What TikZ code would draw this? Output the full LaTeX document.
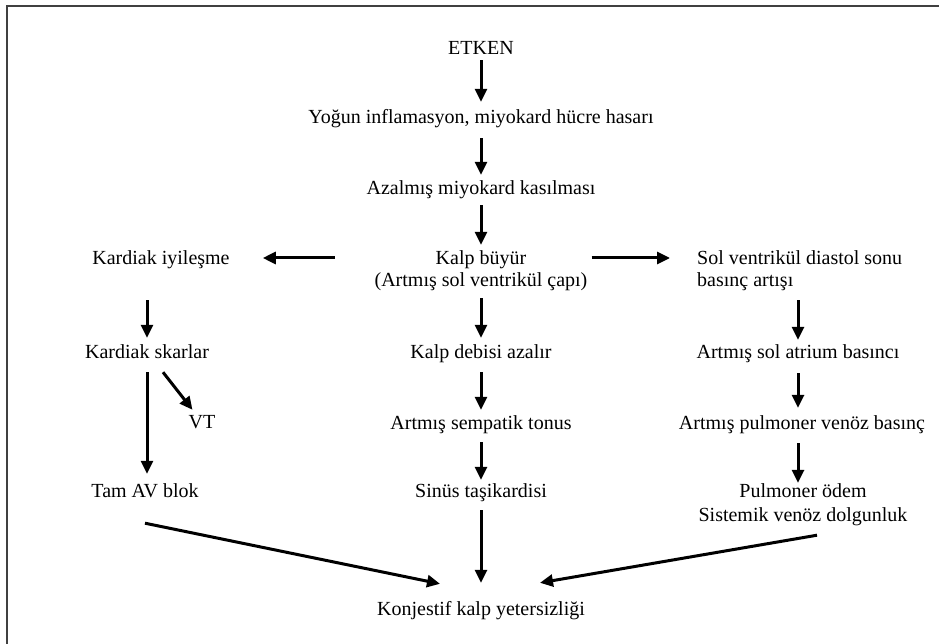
\documentclass[tikz,border=0pt]{standalone}
\usepackage{fontspec}
\setmainfont{Liberation Serif}
\usetikzlibrary{arrows.meta}
\tikzset{
  lbl/.style={inner sep=0pt, text height=14pt, text depth=5pt, font=\fontsize{20}{24}\selectfont, anchor=base},
  lblw/.style={lbl, anchor=base west},
  arr/.style={line width=3pt, -{Triangle[width=12pt,length=13pt]}},
}
\begin{document}
\begin{tikzpicture}[x=1pt,y=-1pt]
\useasboundingbox (0,0) rectangle (939,644);
\draw[line width=2pt, black!75] (7,644) -- (7,6) -- (939,6);

% centre column
\node[lbl] (etken) at (481,55) {ETKEN};
\node[lbl] (yogun) at (481,124) {Yoğun inflamasyon, miyokard hücre hasarı};
\node[lbl] (azalmis) at (481,195) {Azalmış miyokard kasılması};
\node[lbl] (kalp1) at (481,265) {Kalp büyür};
\node[lbl] (kalp2) at (481,287) {(Artmış sol ventrikül çapı)};
\node[lbl] (debisi) at (481,358) {Kalp debisi azalır};
\node[lbl] (sempatik) at (481,429) {Artmış sempatik tonus};
\node[lbl] (sinus) at (481,497) {Sinüs taşikardisi};
\node[lbl] (konjestif) at (481,615) {Konjestif kalp yetersizliği};

% left column
\node[lbl] (iyilesme) at (161,265) {Kardiak iyileşme};
\node[lbl] (skarlar) at (147,358) {Kardiak skarlar};
\node[lbl] (vt) at (202,428) {VT};
\node[lbl] (tamav) at (145,497) {Tam AV blok};

% right column
\node[lblw] (sol1) at (697,265) {Sol ventrikül diastol sonu};
\node[lblw] (sol2) at (697,287) {basınç artışı};
\node[lbl] (atrium) at (798,358) {Artmış sol atrium basıncı};
\node[lbl] (pulmvenoz) at (802,429) {Artmış pulmoner venöz basınç};
\node[lbl] (pulmodem) at (803,497) {Pulmoner ödem};
\node[lbl] (sistemik) at (803,521) {Sistemik venöz dolgunluk};

% centre arrows
\draw[arr, shorten <=0pt, shorten >=8pt] (etken.south) -- (yogun.north);
\draw[arr, shorten <=9pt, shorten >=6pt] (yogun.south) -- (azalmis.north);
\draw[arr, shorten <=5pt, shorten >=6pt] (azalmis.south) -- (kalp1.north);
\draw[arr, shorten <=6pt, shorten >=6pt] (kalp2.south) -- (debisi.north);
\draw[arr, shorten <=9pt, shorten >=5pt] (debisi.south) -- (sempatik.north);
\draw[arr, shorten <=8pt, shorten >=3pt] (sempatik.south) -- (sinus.north);
\draw[arr, shorten <=8pt, shorten >=18pt] (sinus.south) -- (konjestif.north);

% horizontal arrows
\draw[arr, shorten <=101pt, shorten >=33pt] ([yshift=2.5pt]kalp1.west) -- ([yshift=2.5pt]iyilesme.east);
\draw[arr, shorten <=4pt, shorten >=27pt] ([yshift=2.5pt]kalp2.east |- kalp1.east) -- ([yshift=2.5pt]sol1.west);

% right arrows
\draw[arr, shorten <=8pt, shorten >=4pt] (atrium.north |- sol2.south) -- (atrium.north);
\draw[arr, shorten <=10pt, shorten >=7pt] (atrium.south) -- (atrium.south |- pulmvenoz.north);
\draw[arr, shorten <=9pt, shorten >=0pt] (atrium.south |- pulmvenoz.south) -- (atrium.south |- pulmodem.north);

% left arrows
\draw[arr, shorten <=30pt, shorten >=6pt] (skarlar.north |- iyilesme.south) -- (skarlar.north);
\draw[arr, shorten <=9pt, shorten >=9pt] (skarlar.south) -- (skarlar.south |- tamav.north);
\draw[arr] ([shift={(16,9)}]skarlar.south) -- ([shift={(4,-4)}]vt.north west);

% converging arrows
\draw[arr] ([shift={(0,21)}]tamav.south) -- ([shift={(-41,-17)}]konjestif.north);
\draw[arr] ([shift={(14,9)}]sistemik.south) -- ([shift={(59,-18)}]konjestif.north);
\end{tikzpicture}
\end{document}
